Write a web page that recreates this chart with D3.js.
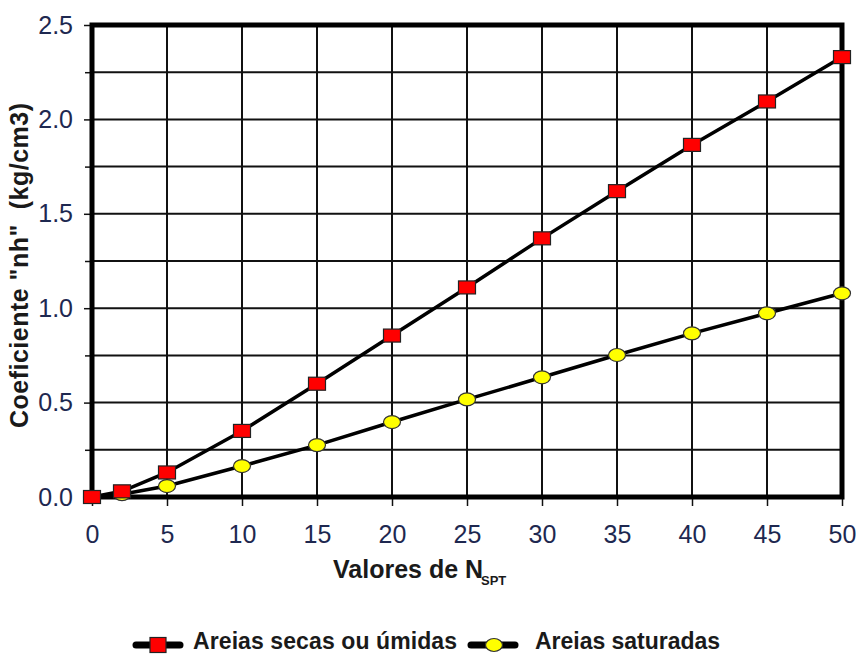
<!DOCTYPE html>
<html><head><meta charset="utf-8">
<script src="https://cdn.jsdelivr.net/npm/d3@7"></script>
<style>body{margin:0;background:#fff;} svg{display:block;}</style>
</head><body>
<svg id="c" width="856" height="655"></svg>
<script>
const nspt = [0, 2, 5, 10, 15, 20, 25, 30, 35, 40, 45, 50];
const secas = [0, 0.03, 0.13, 0.35, 0.60, 0.855, 1.11, 1.37, 1.62, 1.865, 2.095, 2.33];
const saturadas = [0, 0.015, 0.058, 0.164, 0.275, 0.397, 0.517, 0.634, 0.752, 0.867, 0.973, 1.079];
const xTicks = [0, 5, 10, 15, 20, 25, 30, 35, 40, 45, 50];
const yTicks = [0, 0.5, 1.0, 1.5, 2.0, 2.5];
const yMinor = [0.25, 0.75, 1.25, 1.75, 2.25];
const seriesNames = ["Areias secas ou úmidas", "Areias saturadas"];

const svg = d3.select("#c");
const L = 92, R = 842, T = 25, B = 497;
const x = d3.scaleLinear().domain([0, 50]).range([L, R]);
const y = d3.scaleLinear().domain([0, 2.5]).range([B, T]);
const tickColor = "#1e2850";
const titleColor = "#1a1a1a";
const font = "Arial, 'Liberation Sans', sans-serif";

// grid
const g = svg.append("g");
g.selectAll(".vx").data(xTicks).join("line")
  .attr("x1", d => x(d)).attr("x2", d => x(d)).attr("y1", T).attr("y2", B)
  .attr("stroke", "#111").attr("stroke-width", 2);
g.selectAll(".hy").data(yTicks.concat(yMinor)).join("line")
  .attr("y1", d => y(d)).attr("y2", d => y(d)).attr("x1", L).attr("x2", R)
  .attr("stroke", "#111").attr("stroke-width", 2);

// axes
const xAxis = d3.axisBottom(x).tickValues(xTicks).tickSize(9).tickPadding(19).tickFormat(d3.format("d"));
const xg = svg.append("g").attr("transform", `translate(0,${B})`).call(xAxis);
xg.select(".domain").remove();
xg.selectAll("line").attr("stroke", "#111").attr("stroke-width", 1.5);
xg.selectAll("text").attr("font-family", font).attr("font-size", 25).attr("fill", tickColor);

const yAxisMinor = d3.axisLeft(y).tickValues(yMinor).tickSize(7).tickFormat("");
const ygm = svg.append("g").attr("transform", `translate(${L},0)`).call(yAxisMinor);
ygm.select(".domain").remove();
ygm.selectAll("line").attr("stroke", "#111").attr("stroke-width", 1.5);

const yAxis = d3.axisLeft(y).tickValues(yTicks).tickSize(8).tickPadding(11).tickFormat(d3.format(".1f"));
const yg = svg.append("g").attr("transform", `translate(${L},0)`).call(yAxis);
yg.select(".domain").remove();
yg.selectAll("line").attr("stroke", "#111").attr("stroke-width", 1.5);
yg.selectAll("text").attr("font-family", font).attr("font-size", 25).attr("fill", tickColor);

// frame
svg.append("rect").attr("x", L).attr("y", T).attr("width", R - L).attr("height", B - T)
  .attr("fill", "none").attr("stroke", "#000").attr("stroke-width", 5);

// lines
const line = d3.line().x((d, i) => x(nspt[i])).y(d => y(d));
svg.append("path").datum(saturadas).attr("d", line).attr("fill", "none").attr("stroke", "#000").attr("stroke-width", 3.5);
svg.append("path").datum(secas).attr("d", line).attr("fill", "none").attr("stroke", "#000").attr("stroke-width", 3.5);

// markers
svg.selectAll(".sat").data(saturadas).join("ellipse")
  .attr("cx", (d, i) => x(nspt[i])).attr("cy", d => y(d)).attr("rx", 8.5).attr("ry", 6.5)
  .attr("fill", "#ffff00").attr("stroke", "#333").attr("stroke-width", 1.2);
svg.selectAll(".sec").data(secas).join("rect")
  .attr("x", (d, i) => x(nspt[i]) - 8.5).attr("y", d => y(d) - 6.5).attr("width", 17).attr("height", 13)
  .attr("fill", "#ff0000").attr("stroke", "#222").attr("stroke-width", 1.2);

// axis titles
const xt = svg.append("text").attr("x", 333).attr("y", 578)
  .attr("font-family", font).attr("font-size", 25).attr("font-weight", "bold").attr("fill", titleColor);
xt.append("tspan").text("Valores de N");
xt.append("tspan").text("SPT").attr("x", 481).attr("font-size", 13).attr("dy", 7);

svg.append("text").attr("transform", "translate(28,428) rotate(-90)").attr("text-anchor", "start")
  .attr("font-family", font).attr("font-size", 25).attr("font-weight", "bold").attr("fill", titleColor)
  .attr("xml:space", "preserve").attr("textLength", 325).attr("lengthAdjust", "spacing")
  .text('Coeficiente "nh"  (kg/cm3)');

// legend
const leg = [
  {x0: 133, tx: 193, tl: 264, name: seriesNames[0], kind: "sq"},
  {x0: 468, tx: 535, tl: 185, name: seriesNames[1], kind: "ci"}
];
leg.forEach(l => {
  const cy = 645;
  svg.append("line").attr("x1", l.x0 + 3).attr("x2", l.x0 + 47).attr("y1", cy).attr("y2", cy)
    .attr("stroke", "#000").attr("stroke-width", 7).attr("stroke-linecap", "round");
  if (l.kind === "sq") {
    svg.append("rect").attr("x", l.x0 + 17).attr("y", cy - 7.5).attr("width", 16).attr("height", 15)
      .attr("fill", "#ff0000").attr("stroke", "#222").attr("stroke-width", 1.2);
  } else {
    svg.append("ellipse").attr("cx", l.x0 + 26).attr("cy", cy).attr("rx", 8.5).attr("ry", 6.5)
      .attr("fill", "#ffff00").attr("stroke", "#333").attr("stroke-width", 1.2);
  }
  svg.append("text").attr("x", l.tx).attr("y", cy + 4).attr("font-family", font)
    .attr("font-size", 23).attr("font-weight", "bold").attr("fill", titleColor)
    .attr("textLength", l.tl).attr("lengthAdjust", "spacing").text(l.name);
});
</script>
</body></html>
